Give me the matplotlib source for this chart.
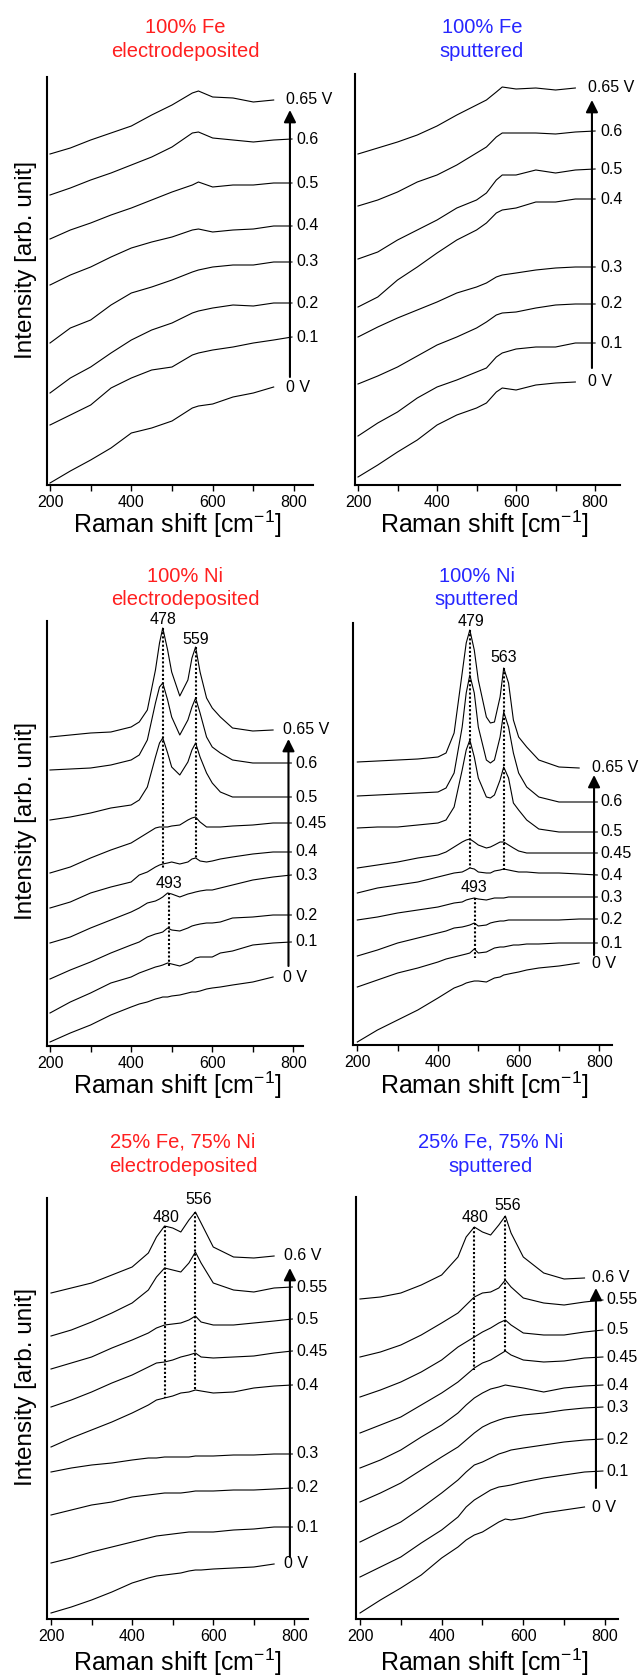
import numpy as np
import matplotlib.pyplot as plt

plt.rcParams['font.family'] = ['Liberation Sans', 'DejaVu Sans']
plt.rcParams['mathtext.fontset'] = 'custom'
plt.rcParams['mathtext.rm'] = 'Liberation Sans'
plt.rcParams['mathtext.it'] = 'Liberation Sans:italic'
plt.rcParams['mathtext.bf'] = 'Liberation Sans:bold'

nan = np.nan
RED = '#ff1f1f'
BLUE = '#2626ff'

# intensities are arbitrary units, curves listed bottom -> top

# ---- 100% Fe, electrodeposited ----
fe_ed_shift = [200, 250, 300, 350, 400, 450, 500, 550, 565, 600, 650, 700, 750, 795]
fe_ed_volts = ['0 V', '0.1', '0.2', '0.3', '0.4', '0.5', '0.6', '0.65 V']
fe_ed_curves = [
    [2, 14, 25, 37, 52, 57, 64, 77, 79, 81, 88, 92, 98, nan],
    [60, 70, 80, 97, 107, 115, 118, 130, 132, 135, 138, 142, 145, 148],
    [92, 107, 118, 132, 145, 155, 162, 172, 174, 177, 180, 179, 182, 182],
    [142, 157, 165, 180, 192, 198, 205, 213, 215, 218, 220, 220, 223, 223],
    [200, 210, 218, 228, 237, 243, 248, 255, 256, 253, 255, 256, 259, 259],
    [246, 255, 262, 270, 277, 285, 293, 300, 303, 298, 300, 300, 302, 302],
    [290, 297, 305, 312, 320, 328, 338, 352, 353, 347, 345, 343, 345, 346],
    [331, 337, 345, 352, 359, 370, 380, 392, 394, 388, 387, 383, 385, nan],
]

# ---- 100% Fe, sputtered ----
fe_sp_shift = [200, 250, 300, 350, 400, 450, 500, 525, 550, 565, 600, 650, 700, 750, 800]
fe_sp_volts = ['0 V', '0.1', '0.2', '0.3', '0.4', '0.5', '0.6', '0.65 V']
fe_sp_curves = [
    [8, 20, 33, 45, 60, 70, 77, 82, 93, 97, 95, 100, 102, 103, nan],
    [49, 62, 73, 87, 98, 105, 113, 117, 128, 132, 136, 138, 138, 142, 142],
    [101, 109, 118, 129, 140, 148, 157, 163, 170, 172, 173, 177, 180, 181, 181],
    [148, 158, 167, 175, 183, 192, 198, 202, 208, 210, 212, 215, 217, 218, 218],
    [178, 188, 205, 218, 232, 245, 255, 262, 272, 275, 277, 283, 283, 286, 286],
    [226, 233, 245, 255, 265, 277, 285, 292, 305, 310, 310, 315, 312, 315, 316],
    [279, 285, 293, 303, 310, 320, 332, 338, 348, 352, 352, 352, 351, 353, 354],
    [331, 337, 343, 350, 359, 370, 380, 385, 393, 398, 396, 397, 395, 397, nan],
]

# ---- 100% Ni, electrodeposited ----
ni_ed_shift = [200, 250, 300, 350, 400, 420, 440, 460, 470, 478, 490, 500, 520,
               540, 550, 559, 570, 586, 600, 620, 650, 700, 750, 795]
ni_ed_volts = ['0 V', '0.1', '0.2', '0.3', '0.4', '0.45', '0.5', '0.6', '0.65 V']
ni_ed_curves = [
    [4, 13, 21, 31, 39, 42, 44, 47, 48, 49, 49, 50, 51, 53, 54, 54, 55, 57, 58, 59, 61, 64, 69, nan],
    [33, 44, 53, 63, 69, 73, 76, 79, 80, 81, 83, 82, 80, 83, 85, 88, 89, 89, 89, 93, 95, 101, 103, 104],
    [67, 76, 84, 93, 101, 104, 109, 112, 113, 114, 118, 116, 115, 118, 120, 121, 122, 123, 123, 124, 128, 129, 131, 131],
    [103, 109, 118, 126, 134, 138, 143, 145, 147, 149, 153, 152, 149, 152, 153, 154, 155, 156, 156, 158, 161, 166, 169, 171],
    [138, 144, 153, 159, 164, 171, 174, 179, 181, 182, 183, 184, 182, 184, 187, 188, 185, 184, 185, 187, 189, 192, 194, 194],
    [173, 179, 188, 196, 203, 208, 213, 218, 219, 219, 219, 220, 221, 226, 228, 229, 224, 219, 219, 219, 220, 221, 223, 223],
    [226, 229, 233, 238, 241, 246, 259, 289, 303, 308, 293, 279, 271, 284, 296, 303, 289, 273, 263, 254, 249, 249, 249, 249],
    [276, 277, 278, 281, 286, 291, 306, 343, 359, 363, 346, 329, 311, 326, 339, 348, 333, 309, 299, 293, 286, 283, 283, 283],
    [309, 311, 313, 314, 319, 324, 336, 376, 403, 418, 396, 374, 350, 366, 388, 399, 374, 348, 338, 329, 318, 315, 316, nan],
]
ni_ed_peaks = [('478', 478, 426), ('559', 560, 407), ('493', 494, 163)]
ni_ed_marks = [(478, 418, 178), (559, 399, 188), (493, 153, 78)]

# ---- 100% Ni, sputtered ----
ni_sp_shift = [200, 250, 300, 350, 400, 420, 440, 460, 470, 479, 490, 500, 520,
               530, 540, 554, 563, 575, 587, 600, 620, 650, 700, 750, 795]
ni_sp_volts = ['0 V', '0.1', '0.2', '0.3', '0.4', '0.45', '0.5', '0.6', '0.65 V']
ni_sp_curves = [
    [3, 15, 25, 35, 47, 52, 57, 60, 62, 63, 64, 64, 63, 65, 67, 68, 70, 71, 72, 73, 75, 77, 79, 82, nan],
    [58, 65, 72, 77, 83, 86, 88, 90, 91, 92, 96, 92, 93, 95, 97, 98, 98, 99, 100, 100, 101, 101, 102, 102, 102],
    [89, 95, 102, 107, 112, 114, 117, 118, 119, 120, 122, 119, 120, 122, 123, 124, 124, 125, 125, 125, 125, 125, 125, 126, 126],
    [125, 128, 132, 135, 138, 140, 142, 143, 145, 146, 147, 146, 145, 146, 147, 147, 147, 148, 148, 148, 148, 148, 148, 148, 148],
    [152, 157, 160, 163, 168, 170, 172, 173, 175, 177, 176, 173, 172, 172, 174, 175, 176, 175, 174, 173, 173, 172, 172, 171, 170],
    [177, 180, 183, 187, 190, 193, 198, 203, 205, 206, 203, 200, 197, 198, 200, 203, 203, 200, 197, 194, 192, 192, 192, 192, 192],
    [217, 218, 218, 220, 222, 225, 238, 275, 295, 305, 288, 267, 248, 247, 250, 265, 278, 267, 242, 235, 225, 216, 213, 213, 213],
    [249, 250, 251, 252, 253, 257, 272, 318, 352, 370, 352, 318, 285, 282, 285, 308, 333, 318, 292, 272, 258, 248, 243, 243, 243],
    [283, 284, 285, 286, 288, 292, 312, 372, 402, 415, 395, 365, 328, 322, 323, 348, 377, 362, 325, 308, 298, 285, 278, 277, nan],
]
ni_sp_peaks = [('479', 481, 423), ('563', 562, 388), ('493', 490, 158)]
ni_sp_marks = [(479, 415, 177), (563, 377, 175), (493, 147, 87)]

# ---- 25% Fe, 75% Ni, electrodeposited ----
feni_ed_shift = [200, 250, 300, 350, 400, 440, 460, 480, 500, 520, 540, 556, 570, 600, 650, 700, 750, 795]
feni_ed_volts = ['0 V', '0.1', '0.2', '0.3', '0.4', '0.45', '0.5', '0.55', '0.6 V']
feni_ed_curves = [
    [6, 12, 19, 27, 36, 41, 43, 44, 45, 46, 48, 49, 49, 50, 51, 52, 55, nan],
    [56, 61, 67, 72, 77, 81, 83, 84, 85, 86, 87, 87, 87, 87, 89, 90, 92, 92],
    [104, 109, 114, 117, 122, 124, 125, 126, 126, 126, 127, 128, 128, 128, 129, 129, 130, 131],
    [147, 151, 154, 156, 159, 161, 161, 162, 162, 162, 162, 163, 163, 163, 164, 164, 165, 165],
    [172, 181, 189, 197, 206, 214, 219, 221, 223, 226, 227, 229, 228, 226, 227, 231, 233, 234],
    [212, 219, 227, 236, 244, 252, 256, 257, 259, 262, 264, 266, 262, 261, 262, 263, 266, 268],
    [250, 256, 262, 271, 279, 286, 291, 294, 295, 296, 299, 303, 297, 294, 294, 296, 298, 300],
    [283, 289, 297, 306, 316, 329, 342, 351, 349, 347, 356, 367, 356, 336, 329, 327, 331, 332],
    [326, 331, 336, 344, 352, 366, 382, 393, 391, 387, 399, 407, 396, 372, 362, 361, 363, nan],
]
feni_ed_peaks = [('480', 484, 402), ('556', 563, 419)]
feni_ed_marks = [(480, 393, 221), (556, 407, 229)]

# ---- 25% Fe, 75% Ni, sputtered ----
feni_sp_shift = [200, 250, 300, 350, 400, 440, 460, 480, 500, 520, 540, 556, 570, 600, 650, 700, 750, 795]
feni_sp_volts = ['0 V', '0.1', '0.2', '0.3', '0.4', '0.45', '0.5', '0.55', '0.6 V']
feni_sp_curves = [
    [6, 19, 31, 44, 61, 72, 79, 84, 87, 92, 97, 100, 99, 101, 106, 109, 112, nan],
    [42, 52, 62, 76, 89, 102, 112, 119, 124, 129, 132, 133, 134, 137, 141, 144, 147, 148],
    [77, 87, 97, 111, 126, 139, 147, 154, 157, 161, 165, 167, 169, 171, 174, 177, 179, 180],
    [117, 126, 136, 149, 162, 172, 179, 186, 192, 196, 199, 201, 202, 204, 206, 209, 211, 212],
    [151, 159, 169, 182, 194, 206, 214, 221, 226, 230, 232, 234, 233, 231, 227, 231, 233, 234],
    [186, 194, 202, 214, 226, 237, 244, 251, 256, 259, 264, 268, 264, 259, 257, 258, 261, 262],
    [222, 229, 237, 247, 259, 272, 277, 282, 287, 291, 296, 299, 294, 286, 284, 284, 287, 289],
    [262, 267, 274, 284, 296, 306, 314, 322, 326, 327, 331, 339, 332, 321, 316, 314, 317, 319],
    [320, 322, 326, 334, 344, 362, 382, 392, 387, 384, 394, 403, 386, 362, 346, 340, 341, nan],
]
feni_sp_peaks = [('480', 483, 402), ('556', 562, 413)]
feni_sp_marks = [(480, 392, 249), (556, 403, 268)]

# layout in output pixels: box = (left, right, top, bottom)
panels = [
    dict(shift=fe_ed_shift, curves=fe_ed_curves, volts=fe_ed_volts, peaks=[], marks=[],
         box=(47, 313, 77, 485), xlim=(192.6, 846.7), arrow=(790, 108, 375), lab_x=(780, 807),
         title=('100% Fe', 'electrodeposited'), tx=185, ty=(33, 57), color=RED),
    dict(shift=fe_sp_shift, curves=fe_sp_curves, volts=fe_sp_volts, peaks=[], marks=[],
         box=(355, 620, 74, 485), xlim=(192.4, 863), arrow=(792, 117, 385), lab_x=(783, 813),
         title=('100% Fe', 'sputtered'), tx=482, ty=(33, 57), color=BLUE),
    dict(shift=ni_ed_shift, curves=ni_ed_curves, volts=ni_ed_volts, peaks=ni_ed_peaks, marks=ni_ed_marks,
         box=(47, 303, 621, 1046), xlim=(192.6, 823.8), arrow=(788, 80, 307), lab_x=(774, 804),
         title=('100% Ni', 'electrodeposited'), tx=185, ty=(582, 605), color=RED),
    dict(shift=ni_sp_shift, curves=ni_sp_curves, volts=ni_sp_volts, peaks=ni_sp_peaks, marks=ni_sp_marks,
         box=(353, 612, 623, 1045), xlim=(189.3, 831.5), arrow=(787, 90, 270), lab_x=(781, 802),
         title=('100% Ni', 'sputtered'), tx=477, ty=(582, 605), color=BLUE),
    dict(shift=feni_ed_shift, curves=feni_ed_curves, volts=feni_ed_volts, peaks=feni_ed_peaks, marks=feni_ed_marks,
         box=(47, 308, 1198, 1619), xlim=(190.1, 833.6), arrow=(789, 62, 351), lab_x=(775, 806),
         title=('25% Fe, 75% Ni', 'electrodeposited'), tx=183, ty=(1147, 1172), color=RED),
    dict(shift=feni_sp_shift, curves=feni_sp_curves, volts=feni_sp_volts, peaks=feni_sp_peaks, marks=feni_sp_marks,
         box=(356, 618, 1197, 1619), xlim=(190.2, 832), arrow=(778, 131, 331), lab_x=(768, 804),
         title=('25% Fe, 75% Ni', 'sputtered'), tx=491, ty=(1147, 1172), color=BLUE),
]

W, H = 640, 1680
fig = plt.figure(figsize=(W / 100, H / 100), dpi=100)


def fx(px):
    return px / W


def fy(py):
    return 1 - py / H


for p in panels:
    left, right, top, bottom = p['box']
    ax = fig.add_axes([fx(left), fy(bottom), (right - left) / W, (bottom - top) / H])
    ax.patch.set_visible(False)
    x = np.array(p['shift'], dtype=float)
    n = len(p['curves'])
    for i, (vals, lab) in enumerate(zip(p['curves'], p['volts'])):
        y = np.array(vals, dtype=float)
        ax.plot(x, y, color='k', lw=0.8)
        y_end = y[~np.isnan(y)][-1]
        lx = p['lab_x'][0] if i in (0, n - 1) else p['lab_x'][1]
        ax.text(lx, y_end, lab, ha='left', va='center', fontsize=11.5, clip_on=False)

    for xm, y0, y1 in p['marks']:
        ax.plot([xm, xm], [y0, y1], color='k', lw=1.5, ls=(0, (1, 1)))
    for txt, xt, yt in p['peaks']:
        ax.text(xt, yt, txt, ha='center', va='center', fontsize=11.5)

    xa, ya0, ya1 = p['arrow']
    ax.annotate('', xy=(xa, ya1), xytext=(xa, ya0),
                arrowprops=dict(arrowstyle='-|>,head_length=0.6,head_width=0.3',
                                color='k', lw=1.5, shrinkA=0, shrinkB=0, mutation_scale=12))

    ax.set_xlim(*p['xlim'])
    ax.set_ylim(0, bottom - top)
    ax.set_yticks([])
    ax.set_xticks([200, 400, 600, 800])
    ax.set_xticks([300, 500, 700], minor=True)
    ax.tick_params(axis='x', which='both', direction='out', length=4, width=1.0,
                   labelsize=11.5, pad=3)
    for s in ('top', 'right'):
        ax.spines[s].set_visible(False)
    for s in ('left', 'bottom'):
        ax.spines[s].set_linewidth(1.5)

    fig.text(fx(p['tx']), fy(p['ty'][0]), p['title'][0], ha='center', va='baseline',
             fontsize=14.5, color=p['color'])
    fig.text(fx(p['tx']), fy(p['ty'][1]), p['title'][1], ha='center', va='baseline',
             fontsize=14.5, color=p['color'])

# shared axis labels
for yb in (533, 1094, 1671):
    fig.text(fx(177), fy(yb), r'Raman shift [cm$^{-1}$]', ha='center', va='baseline', fontsize=18)
    fig.text(fx(484), fy(yb), r'Raman shift [cm$^{-1}$]', ha='center', va='baseline', fontsize=18)
for yc in (260, 821, 1387):
    fig.text(fx(26), fy(yc), 'Intensity [arb. unit]', rotation=90, ha='center', va='center',
             fontsize=17.5)

fig.savefig('out.png', dpi=100)
